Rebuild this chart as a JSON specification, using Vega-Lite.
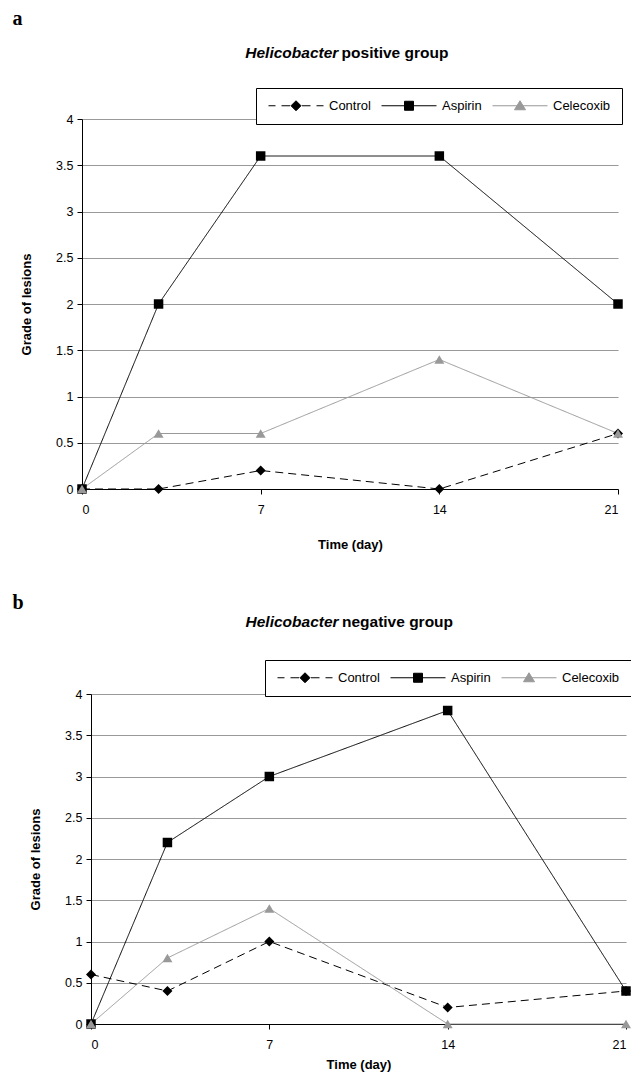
{
  "$schema": "https://vega.github.io/schema/vega-lite/v6.json",
  "padding": {"left": 12, "top": 9, "right": 0, "bottom": 0},
  "config": {
    "font": "Liberation Sans",
    "view": {"stroke": null},
    "axis": {"labelFont": "Liberation Sans", "labelFontSize": 12.5, "labelColor": "#000", "titleFont": "Liberation Sans", "titleFontSize": 13, "titleFontWeight": "bold", "titleColor": "#000", "domainColor": "#000", "tickColor": "#000", "tickSize": 5, "gridColor": "#999", "gridOpacity": 1},
    "title": {"font": "Liberation Sans", "fontSize": 15.5, "fontWeight": "bold", "color": "#000"},
    "legend": {"labelFont": "Liberation Sans", "labelFontSize": 13, "labelColor": "#000"},
    "concat": {"spacing": 0}
  },
  "datasets": {
    "pos": [
      {"day": 0, "grade": 0, "treatment": "Control"},
      {"day": 3, "grade": 0, "treatment": "Control"},
      {"day": 7, "grade": 0.2, "treatment": "Control"},
      {"day": 14, "grade": 0, "treatment": "Control"},
      {"day": 21, "grade": 0.6, "treatment": "Control"},
      {"day": 0, "grade": 0, "treatment": "Aspirin"},
      {"day": 3, "grade": 2, "treatment": "Aspirin"},
      {"day": 7, "grade": 3.6, "treatment": "Aspirin"},
      {"day": 14, "grade": 3.6, "treatment": "Aspirin"},
      {"day": 21, "grade": 2, "treatment": "Aspirin"},
      {"day": 0, "grade": 0, "treatment": "Celecoxib"},
      {"day": 3, "grade": 0.6, "treatment": "Celecoxib"},
      {"day": 7, "grade": 0.6, "treatment": "Celecoxib"},
      {"day": 14, "grade": 1.4, "treatment": "Celecoxib"},
      {"day": 21, "grade": 0.6, "treatment": "Celecoxib"}
    ],
    "neg": [
      {"day": 0, "grade": 0.6, "treatment": "Control"},
      {"day": 3, "grade": 0.4, "treatment": "Control"},
      {"day": 7, "grade": 1.0, "treatment": "Control"},
      {"day": 14, "grade": 0.2, "treatment": "Control"},
      {"day": 21, "grade": 0.4, "treatment": "Control"},
      {"day": 0, "grade": 0, "treatment": "Aspirin"},
      {"day": 3, "grade": 2.2, "treatment": "Aspirin"},
      {"day": 7, "grade": 3.0, "treatment": "Aspirin"},
      {"day": 14, "grade": 3.8, "treatment": "Aspirin"},
      {"day": 21, "grade": 0.4, "treatment": "Aspirin"},
      {"day": 0, "grade": 0, "treatment": "Celecoxib"},
      {"day": 3, "grade": 0.8, "treatment": "Celecoxib"},
      {"day": 7, "grade": 1.4, "treatment": "Celecoxib"},
      {"day": 14, "grade": 0, "treatment": "Celecoxib"},
      {"day": 21, "grade": 0, "treatment": "Celecoxib"}
    ]
  },
  "columns": 1,
  "align": "none",
  "spacing": 41,
  "resolve": {"scale": {"color": "independent"}, "legend": {"color": "independent"}},
  "concat": [
    {
      "title": {"text": "a", "anchor": "start", "frame": "bounds", "font": "Liberation Serif", "fontSize": 20, "fontWeight": "bold", "dx": -8, "offset": 17},
      "resolve": {"scale": {"color": "independent"}, "legend": {"color": "independent"}},
      "vconcat": [
        {
          "title": {"text": "Helicobacter", "fontStyle": "italic", "anchor": "middle", "frame": "bounds", "dx": -30, "offset": -15.5},
          "resolve": {"scale": {"color": "independent"}, "legend": {"color": "independent"}},
          "vconcat": [
            {
              "width": 536,
              "height": 370,
              "data": {"name": "pos"},
              "title": {"text": "positive group", "anchor": "middle", "dx": 45, "offset": 26},
              "encoding": {
                "x": {"field": "day", "type": "quantitative", "scale": {"domain": [0, 21], "nice": false}, "axis": {"values": [0, 7, 14, 21], "format": "d", "title": "Time (day)", "grid": false, "labelPadding": 9, "titlePadding": 23}},
                "y": {"field": "grade", "type": "quantitative", "scale": {"domain": [0, 4], "nice": false}, "axis": {"values": [0, 0.5, 1, 1.5, 2, 2.5, 3, 3.5, 4], "format": "~g", "title": "Grade of lesions", "labelPadding": 4, "titlePadding": 22, "grid": true}},
                "color": {"field": "treatment", "type": "nominal", "scale": {"domain": ["Control", "Aspirin", "Celecoxib"], "range": ["#000000", "#000000", "#999999"]},
                  "legend": {"orient": "none", "legendX": 174, "legendY": -31, "direction": "horizontal", "title": null, "strokeColor": "#000", "fillColor": "#fff", "padding": 11, "symbolSize": 100, "symbolStrokeWidth": 1, "labelFontSize": 13, "labelColor": "#000", "labelOffset": 49, "columnPadding": 8,
                    "symbolType": {"expr": "datum.value == 'Control' ? 'M-1,0H0.4M1.6,0H3.3M5.7,0H7.4M8.6,0H10M4.5,-1L5.5,0L4.5,1L3.5,0Z' : datum.value == 'Aspirin' ? 'M-1,0H10M3.6,-0.9H5.4V0.9H3.6Z' : 'M-1,0H10M4.5,-1L5.6,0.8L3.4,0.8Z'"},
                    "symbolFillColor": {"expr": "datum.value == 'Celecoxib' ? '#999999' : '#000000'"},
                    "symbolStrokeColor": {"expr": "datum.value == 'Celecoxib' ? '#999999' : '#000000'"},
                    "symbolOpacity": 1}
                }
              },
              "layer": [
                {"mark": {"type": "line", "strokeWidth": 1},
                 "encoding": {"strokeDash": {"field": "treatment", "type": "nominal", "scale": {"domain": ["Control", "Aspirin", "Celecoxib"], "range": [[8, 5], [1, 0], [1, 0]]}, "legend": null}}},
                {"transform": [{"filter": {"field": "treatment", "equal": "Control"}}],
                 "mark": {"type": "point", "shape": "diamond", "filled": true, "opacity": 1, "size": 100}},
                {"transform": [{"filter": {"field": "treatment", "equal": "Aspirin"}}],
                 "mark": {"type": "point", "shape": "square", "filled": true, "opacity": 1, "size": 90}},
                {"transform": [{"filter": {"field": "treatment", "equal": "Celecoxib"}}],
                 "mark": {"type": "point", "shape": "triangle-up", "filled": true, "opacity": 1, "size": 100}}
              ]
            }
          ]
        }
      ]
    },
    {
      "title": {"text": "b", "anchor": "start", "frame": "bounds", "font": "Liberation Serif", "fontSize": 20, "fontWeight": "bold", "dx": -17, "offset": 2},
      "resolve": {"scale": {"color": "independent"}, "legend": {"color": "independent"}},
      "vconcat": [
        {
          "title": {"text": "Helicobacter", "fontStyle": "italic", "anchor": "middle", "frame": "bounds", "dx": -38.5, "offset": -15.5},
          "resolve": {"scale": {"color": "independent"}, "legend": {"color": "independent"}},
          "vconcat": [
            {
              "width": 544,
              "height": 330,
              "data": {"name": "neg"},
              "title": {"text": "negative group", "anchor": "middle", "dx": 43.5, "offset": 29},
              "encoding": {
                "x": {"field": "day", "type": "quantitative", "scale": {"domain": [0, 21], "nice": false, "range": [9, 544]}, "axis": {"values": [0, 7, 14, 21], "format": "d", "title": "Time (day)", "grid": false, "labelPadding": 9, "titlePadding": 8}},
                "y": {"field": "grade", "type": "quantitative", "scale": {"domain": [0, 4], "nice": false}, "axis": {"values": [0, 0.5, 1, 1.5, 2, 2.5, 3, 3.5, 4], "format": "~g", "title": "Grade of lesions", "labelPadding": 4, "titlePadding": 22, "offset": -9, "grid": true}},
                "color": {"field": "treatment", "type": "nominal", "scale": {"domain": ["Control", "Aspirin", "Celecoxib"], "range": ["#000000", "#000000", "#999999"]},
                  "legend": {"orient": "none", "legendX": 183, "legendY": -34, "direction": "horizontal", "title": null, "strokeColor": "#000", "fillColor": "#fff", "padding": 11, "symbolSize": 100, "symbolStrokeWidth": 1, "labelFontSize": 13, "labelColor": "#000", "labelOffset": 49, "columnPadding": 8,
                    "symbolType": {"expr": "datum.value == 'Control' ? 'M-1,0H0.4M1.6,0H3.3M5.7,0H7.4M8.6,0H10M4.5,-1L5.5,0L4.5,1L3.5,0Z' : datum.value == 'Aspirin' ? 'M-1,0H10M3.6,-0.9H5.4V0.9H3.6Z' : 'M-1,0H10M4.5,-1L5.6,0.8L3.4,0.8Z'"},
                    "symbolFillColor": {"expr": "datum.value == 'Celecoxib' ? '#999999' : '#000000'"},
                    "symbolStrokeColor": {"expr": "datum.value == 'Celecoxib' ? '#999999' : '#000000'"},
                    "symbolOpacity": 1}
                }
              },
              "layer": [
                {"mark": {"type": "line", "strokeWidth": 1},
                 "encoding": {"strokeDash": {"field": "treatment", "type": "nominal", "scale": {"domain": ["Control", "Aspirin", "Celecoxib"], "range": [[8, 5], [1, 0], [1, 0]]}, "legend": null}}},
                {"transform": [{"filter": {"field": "treatment", "equal": "Control"}}],
                 "mark": {"type": "point", "shape": "diamond", "filled": true, "opacity": 1, "size": 100}},
                {"transform": [{"filter": {"field": "treatment", "equal": "Aspirin"}}],
                 "mark": {"type": "point", "shape": "square", "filled": true, "opacity": 1, "size": 90}},
                {"transform": [{"filter": {"field": "treatment", "equal": "Celecoxib"}}],
                 "mark": {"type": "point", "shape": "triangle-up", "filled": true, "opacity": 1, "size": 100}}
              ]
            }
          ]
        }
      ]
    }
  ]
}
